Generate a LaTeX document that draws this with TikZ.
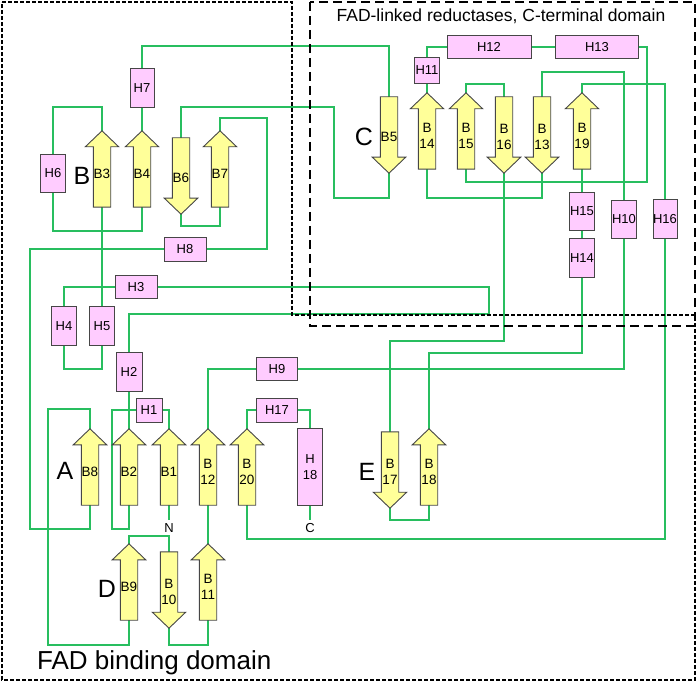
\documentclass[tikz,border=0pt]{standalone}
\usepackage{fontspec}
\setmainfont{Liberation Sans}
\usetikzlibrary{backgrounds}

\definecolor{sheetyellow}{RGB}{255,255,153}
\definecolor{helixpink}{RGB}{255,204,255}
\definecolor{loopgreen}{RGB}{40,190,95}
\definecolor{edgegray}{RGB}{70,70,70}

% strand labels sit a little below the middle of the arrow
\newcommand\uptext[1]{\raisebox{-9.5pt}[0pt][0pt]{\begin{tabular}{@{}c@{}}#1\end{tabular}}}
\newcommand\downtext[1]{\raisebox{-7pt}[0pt][0pt]{\begin{tabular}{@{}c@{}}#1\end{tabular}}}

\begin{document}
\begin{tikzpicture}[x=1pt,y=-1pt,
	link/.style={loopgreen,line width=1.6pt},
	strand/.style={minimum width=17pt,minimum height=76pt,inner sep=0pt,font=\fontsize{13.5}{16}\selectfont},
	sheet/.style={fill=sheetyellow,draw=edgegray,line width=0.9pt},
	helix/.style={rectangle,fill=helixpink,draw=edgegray,line width=0.9pt,inner sep=0pt,minimum width=25pt,minimum height=39pt,font=\fontsize{13}{16}\selectfont,align=center},
	longhelix/.style={helix,minimum width=42pt,minimum height=24pt},
	domletter/.style={font=\fontsize{25}{30}\selectfont,inner sep=0pt},
	fadbox/.style={line width=1.8pt,dash pattern=on 4pt off 2pt},
	ctbox/.style={line width=2pt,dash pattern=on 9pt off 5pt}]
	\useasboundingbox (0,0) rectangle (697,682);
	
	\draw[fadbox] (2,2) -- (292,2) -- (292,315) -- (695,315) -- (695,680) -- (2,680) -- cycle;
	\draw[ctbox] (310,2) rectangle (695,326);
	\node[font=\fontsize{17.5}{20}\selectfont] (cttitle) at (501,16.5) {FAD-linked reductases, C-terminal domain};
	\node[domletter,font=\fontsize{26}{30}\selectfont,anchor=west] (fadtitle) at (37,663) {FAD binding domain};
	
	\node[domletter] (domA) at (65,471) {A};
	\node[domletter] (domB) at (82,176) {B};
	\node[domletter] (domC) at (364,137) {C};
	\node[domletter] (domD) at (107,589) {D};
	\node[domletter] (domE) at (367,472) {E};
	
	% helices
	\node[helix,minimum width=26pt,minimum height=24pt] (H1) at (149,410) {H1};
	\node[helix,minimum width=26pt] (H2) at (129,372) {H2};
	\node[longhelix,minimum height=23pt] (H3) at (136,287) {H3};
	\node[helix] (H4) at (64,326) {H4};
	\node[helix] (H5) at (102,326) {H5};
	\node[helix,minimum height=38pt] (H6) at (53,173) {H6};
	\node[helix,minimum width=24pt] (H7) at (142,88) {H7};
	\node[longhelix] (H8) at (185,249) {H8};
	\node[longhelix,minimum width=41pt,minimum height=23pt] (H9) at (277,369) {H9};
	\node[helix,minimum height=38pt] (H10) at (624,219) {H10};
	\node[helix,minimum height=26pt] (H11) at (427,70) {H11};
	\node[longhelix,minimum width=84pt,minimum height=23pt] (H12) at (489,47) {H12};
	\node[longhelix,minimum width=83pt,minimum height=23pt] (H13) at (597,47) {H13};
	\node[helix] (H14) at (582,258) {H14};
	\node[helix,minimum height=38pt] (H15) at (582,211) {H15};
	\node[helix,minimum width=24pt] (H16) at (665,219) {H16};
	\node[longhelix,minimum width=41pt] (H17) at (277,410) {H17};
	\node[helix,minimum height=77pt] (H18) at (310,467) {H\\18};
	
	% strands
	\node[strand] (B3) at (102,169) {\uptext{B3}};
	\node[strand] (B4) at (142,169) {\uptext{B4}};
	\node[strand] (B6) at (181,176) {\downtext{B6}};
	\node[strand] (B7) at (220,169) {\uptext{B7}};
	\node[strand] (B5) at (389,135) {\downtext{B5}};
	\node[strand] (B14) at (427,131) {\uptext{B\\14}};
	\node[strand] (B15) at (466,131) {\uptext{B\\15}};
	\node[strand] (B16) at (504,135) {\downtext{B\\16}};
	\node[strand] (B13) at (542,135) {\downtext{B\\13}};
	\node[strand] (B19) at (582,131) {\uptext{B\\19}};
	\node[strand] (B8) at (90,467) {\uptext{B8}};
	\node[strand] (B2) at (129,467) {\uptext{B2}};
	\node[strand] (B1) at (169,467) {\uptext{B1}};
	\node[strand] (B12) at (208,467) {\uptext{B\\12}};
	\node[strand] (B20) at (247,467) {\uptext{B\\20}};
	\node[strand] (B9) at (129,582) {\uptext{B9}};
	\node[strand] (B10) at (169,590) {\downtext{B\\10}};
	\node[strand] (B11) at (208,582) {\uptext{B\\11}};
	\node[strand] (B17) at (390,470) {\downtext{B\\17}};
	\node[strand] (B18) at (429,467) {\uptext{B\\18}};
	
	\node[font=\fontsize{13}{15}\selectfont] (Nterm) at (169,528) {N};
	\node[font=\fontsize{13}{15}\selectfont] (Cterm) at (310,528) {C};
	
	\begin{scope}[on background layer]
		% chain from N to C
		\draw[link] (B1.south) -- (Nterm.north);
		\draw[link] (B1.north) |- (H1.east);
		\draw[link] (H1.west) -| (112,529) -| (B2.south);
		\draw[link] (B2.north) -- (H2.south);
		\draw[link] (H2.north) |- (489,314) |- (H3.east);
		\draw[link] (H3.west) -| (H4.north);
		\draw[link] (H4.south) -- ++(0,23) -| (H5.south);
		\draw[link] (H5.north) -- (B3.south);
		\draw[link] (B3.north) -- ++(0,-24) -| (H6.north);
		\draw[link] (H6.south) |- (142,231) -- (B4.south);
		\draw[link] (B4.north) -- (H7.south);
		\draw[link] (H7.north) -- ++(0,-22) -| (B5.north);
		\draw[link] (B5.south) -- ++(0,25) -| (334,107) -| (B6.north);
		\draw[link] (B6.south) -- ++(0,12) -| (B7.south);
		\draw[link] (B7.north) |- (267,118) |- (H8.east);
		\draw[link] (H8.west) -| (30,529) -| (B8.south);
		\draw[link] (B8.north) |- (48,409) -- (48,645) -| (B9.south);
		\draw[link] (B9.north) -- ++(0,-8) -| (B10.north);
		\draw[link] (B10.south) -- ++(0,17) -| (B11.south);
		\draw[link] (B11.north) -- (B12.south);
		\draw[link] (B12.north) |- (H9.west);
		\draw[link] (H9.east) -| (H10.south);
		\draw[link] (H10.north) |- (542,72) -- (B13.north);
		\draw[link] (B13.south) -- ++(0,25) -| (B14.south);
		\draw[link] (B14.north) -- (H11.south);
		\draw[link] (H11.north) |- (H12.west);
		\draw[link] (H12.east) -- (H13.west);
		\draw[link] (H13.east) -| (647,182) -| (B15.south);
		\draw[link] (B15.north) -- ++(0,-9) -| (B16.north);
		\draw[link] (B16.south) -- (504,341) -| (B17.north);
		\draw[link] (B17.south) -- ++(0,12) -| (B18.south);
		\draw[link] (B18.north) -- (429,353) -| (H14.south);
		\draw[link] (H14.north) -- (H15.south);
		\draw[link] (H15.north) -- (B19.south);
		\draw[link] (B19.north) -- ++(0,-9) -| (H16.north);
		\draw[link] (H16.south) -- (665,539) -| (B20.south);
		\draw[link] (B20.north) |- (H17.west);
		\draw[link] (H17.east) -| (H18.north);
		\draw[link] (H18.south) -- (Cterm.north);
		
		% arrow bodies under the strand labels
		\foreach \s in {B3,B4,B7,B14,B15,B19,B8,B2,B1,B12,B20,B9,B11,B18}
		\filldraw[sheet] (\s.south west) -- ([yshift=-16pt]\s.north west) -- ++(-8,0) -- (\s.north) -- ([xshift=8pt,yshift=-16pt]\s.north east) -- ++(-8,0) -- (\s.south east) -- cycle;
		\foreach \s in {B6,B5,B16,B13,B10,B17}
		\filldraw[sheet] (\s.north west) -- ([yshift=16pt]\s.south west) -- ++(-8,0) -- (\s.south) -- ([xshift=8pt,yshift=16pt]\s.south east) -- ++(-8,0) -- (\s.north east) -- cycle;
	\end{scope}
\end{tikzpicture}
\end{document}
